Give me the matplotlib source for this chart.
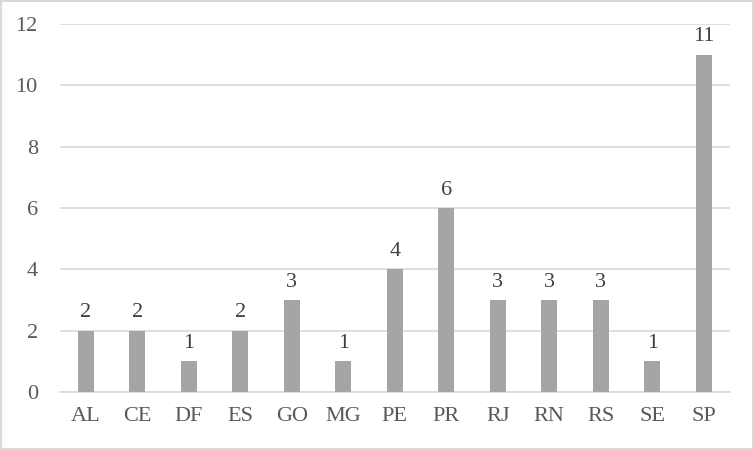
import matplotlib.pyplot as plt
import numpy as np

# Datos
estados = ['AL', 'CE', 'DF', 'ES', 'GO', 'MG', 'PE', 'PR', 'RJ', 'RN', 'RS', 'SE', 'SP']
valores = [2, 2, 1, 2, 3, 1, 4, 6, 3, 3, 3, 1, 11]
ticks_y = [0, 2, 4, 6, 8, 10, 12]

plt.rcParams['font.family'] = ['Liberation Serif', 'DejaVu Serif']
texto = '#595959'

fig = plt.figure(figsize=(7.54, 4.5), dpi=100)
ax = fig.add_axes([0.0796, 0.1289, 0.888, 0.8178])

x = np.arange(len(estados))
barras = ax.bar(x, valores, width=0.31, color='#a5a5a5', zorder=3)
ax.bar_label(barras, padding=6, fontsize=16, color='#404040')

ax.set_xlim(-0.5, len(estados) - 0.5)
ax.set_ylim(0, 12)
ax.set_xticks(x)
ax.set_xticklabels(estados)
ax.set_yticks(ticks_y)
ax.tick_params(axis='both', length=0, labelsize=16, colors=texto)
ax.tick_params(axis='x', pad=11)
ax.tick_params(axis='y', pad=16)
ax.grid(axis='y', color='#d9d9d9', linewidth=1.2, zorder=0)
for s in ['top', 'right', 'left']:
    ax.spines[s].set_visible(False)
ax.spines['bottom'].set_color('#d9d9d9')
ax.spines['bottom'].set_linewidth(1.2)

# Borde gris alrededor de la figura
fig.patches.append(plt.Rectangle((0.001, 0.002), 0.998, 0.996, transform=fig.transFigure,
                                 fill=False, edgecolor='#d9d9d9', linewidth=1.5))

fig.savefig('out.png', dpi=100)
